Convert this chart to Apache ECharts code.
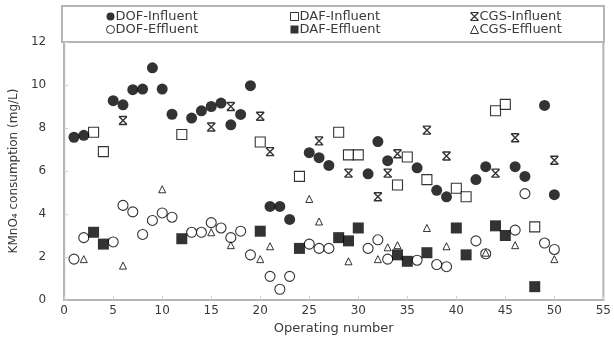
<!DOCTYPE html>
<html><head><meta charset="utf-8">
<script src="https://cdn.jsdelivr.net/npm/echarts@6/dist/echarts.min.js"></script>
<style>html,body{margin:0;padding:0;background:#fff}#c{width:614px;height:356px}</style>
</head><body><div id="c"></div>
<script>
const xTicks = [0,5,10,15,20,25,30,35,40,45,50,55];
const yTicks = [0,2,4,6,8,10,12];
const seriesNames = ['DOF-Influent','DOF-Effluent','DAF-Influent','DAF-Effluent','CGS-Influent','CGS-Effluent'];

const dofInfluent = [[1,7.57],[2,7.66],[5,9.27],[6,9.08],[7,9.78],[8,9.81],[9,10.8],[10,9.81],[11,8.64],[13,8.46],[14,8.8],[15,9.0],[16,9.16],[17,8.15],[18,8.63],[19,9.97],[21,4.35],[22,4.35],[23,3.75],[25,6.85],[26,6.62],[27,6.26],[31,5.87],[32,7.37],[33,6.48],[36,6.15],[38,5.1],[39,4.8],[42,5.6],[43,6.2],[46,6.2],[47,5.75],[49,9.05],[50,4.9]];
const dofEffluent = [[1,1.9],[2,2.9],[5,2.7],[6,4.4],[7,4.1],[8,3.05],[9,3.7],[10,4.05],[11,3.85],[13,3.15],[14,3.15],[15,3.6],[16,3.35],[17,2.9],[18,3.2],[19,2.1],[21,1.1],[22,0.5],[23,1.1],[25,2.6],[26,2.4],[27,2.4],[31,2.4],[32,2.8],[33,1.9],[36,1.85],[38,1.65],[39,1.55],[42,2.75],[43,2.15],[46,3.25],[47,4.95],[49,2.65],[50,2.35]];
const dafInfluent = [[3,7.8],[4,6.9],[12,7.7],[20,7.35],[24,5.75],[28,7.8],[29,6.75],[30,6.75],[34,5.35],[35,6.65],[37,5.6],[40,5.2],[41,4.8],[44,8.8],[45,9.1],[48,3.4]];
const dafEffluent = [[3,3.15],[4,2.6],[12,2.85],[20,3.2],[24,2.4],[28,2.9],[29,2.75],[30,3.35],[34,2.1],[35,1.8],[37,2.2],[40,3.35],[41,2.1],[44,3.45],[45,3.0],[48,0.62]];
const cgsInfluent = [[6,8.35],[15,8.05],[17,9.0],[20,8.55],[21,6.9],[26,7.4],[29,5.9],[32,4.8],[33,5.9],[34,6.8],[37,7.9],[39,6.7],[44,5.9],[46,7.55],[50,6.5]];
const cgsEffluent = [[2,1.9],[6,1.6],[10,5.15],[15,3.15],[17,2.55],[20,1.9],[21,2.5],[25,4.7],[26,3.65],[29,1.8],[32,1.9],[33,2.45],[34,2.55],[37,3.35],[39,2.5],[43,2.2],[46,2.55],[50,1.9]];

const FONT = 'DejaVu Sans';
const TXT = '#3a3a3a';
const FRAME = '#b5b5b5';
const hourglass = 'path://M0,0L10,0M0,10L10,10M0,0L10,10M10,0L0,10';

const chart = echarts.init(document.getElementById('c'), null, {renderer:'canvas'});
const legendBase = {orient:'vertical', top:5, itemGap:0, itemWidth:8, itemHeight:8,
  textStyle:{fontFamily:FONT, fontSize:13, color:TXT, padding:[0,0,0,-4]}};
const filled = {color:'#000'};
const hollow = {color:'#fff', borderColor:'#000', borderWidth:1};
chart.setOption({
  animation:false,
  backgroundColor:'#fff',
  graphic:[{type:'rect', shape:{x:62, y:6, width:542, height:36}, style:{fill:'none', stroke:FRAME, lineWidth:2}, z:-1}],
  legend:[
    Object.assign({}, legendBase, {left:101, data:[
      {name:seriesNames[0], icon:'circle', itemStyle:filled},
      {name:seriesNames[1], icon:'circle', itemStyle:hollow}]}),
    Object.assign({}, legendBase, {left:285, data:[
      {name:seriesNames[2], icon:'rect', itemStyle:hollow},
      {name:seriesNames[3], icon:'rect', itemStyle:filled}]}),
    Object.assign({}, legendBase, {left:463, data:[
      {name:seriesNames[4], icon:hourglass, itemStyle:{color:'none', borderColor:'#000', borderWidth:1.2}},
      {name:seriesNames[5], icon:'triangle', itemStyle:hollow}]})
  ],
  grid:{left:62, right:10, top:42, bottom:56, show:true, borderColor:FRAME, borderWidth:2},
  xAxis:{type:'value', min:xTicks[0], max:xTicks[xTicks.length-1], interval:5,
    name:'Operating number', nameLocation:'middle', nameGap:22,
    nameTextStyle:{fontFamily:FONT, fontSize:13, color:TXT},
    axisLine:{show:true, lineStyle:{color:FRAME, width:2}},
    axisTick:{show:true, inside:true, length:4, lineStyle:{color:'#d0d0d0'}},
    axisLabel:{fontFamily:FONT, fontSize:12, color:TXT, margin:5},
    splitLine:{show:false}},
  yAxis:{type:'value', min:yTicks[0], max:yTicks[yTicks.length-1], interval:2,
    name:'KMnO\u2084 consumption (mg/L)', nameLocation:'middle', nameGap:36,
    nameTextStyle:{fontFamily:FONT, fontSize:12, color:TXT},
    axisLine:{show:true, lineStyle:{color:FRAME, width:2}},
    axisTick:{show:true, inside:true, length:4, lineStyle:{color:'#d0d0d0'}},
    axisLabel:{fontFamily:FONT, fontSize:12, color:TXT, margin:18},
    splitLine:{show:false}},
  series:[
    {name:seriesNames[0], type:'scatter', data:dofInfluent, symbol:'circle', symbolSize:11, itemStyle:{color:'#000'}, z:3},
    {name:seriesNames[1], type:'scatter', data:dofEffluent, symbol:'circle', symbolSize:10, itemStyle:{color:'#fff', borderColor:'#000', borderWidth:1.1}, z:2},
    {name:seriesNames[2], type:'scatter', data:dafInfluent, symbol:'rect', symbolSize:10, itemStyle:{color:'#fff', borderColor:'#000', borderWidth:1.1}, z:2},
    {name:seriesNames[3], type:'scatter', data:dafEffluent, symbol:'rect', symbolSize:11, itemStyle:{color:'#000'}, z:3},
    {name:seriesNames[4], type:'scatter', data:cgsInfluent, symbol:hourglass, symbolSize:[8,8], itemStyle:{color:'none', borderColor:'#000', borderWidth:1.4}, z:4},
    {name:seriesNames[5], type:'scatter', data:cgsEffluent, symbol:'triangle', symbolSize:7, itemStyle:{color:'#fff', borderColor:'#000', borderWidth:1}, z:4}
  ]
});
</script></body></html>
